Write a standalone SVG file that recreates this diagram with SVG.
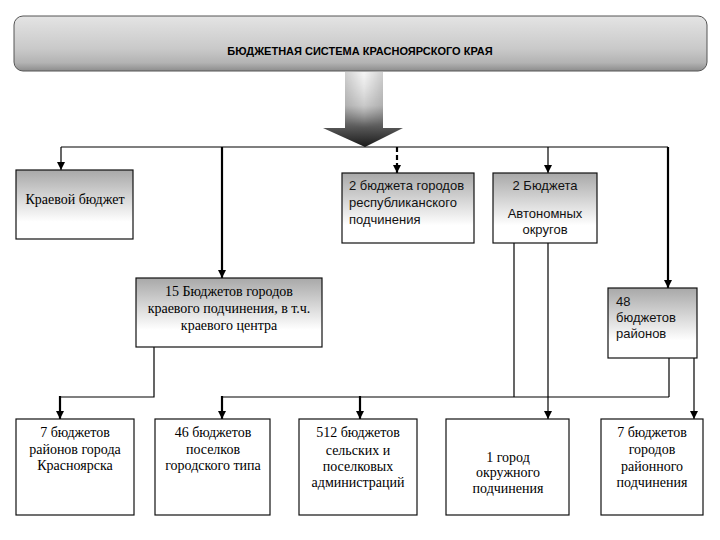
<svg xmlns="http://www.w3.org/2000/svg" width="720" height="540" viewBox="0 0 720 540">
<defs>
  <linearGradient id="gBanner" x1="0" y1="0" x2="0" y2="1">
    <stop offset="0" stop-color="#e4e4e4"/>
    <stop offset="0.6" stop-color="#c9c9c9"/>
    <stop offset="0.85" stop-color="#b3b3b3"/>
    <stop offset="1" stop-color="#8c8c8c"/>
  </linearGradient>
  <linearGradient id="gBox" x1="0" y1="0" x2="0" y2="1">
    <stop offset="0" stop-color="#a8a8a8"/>
    <stop offset="0.75" stop-color="#ffffff"/>
    <stop offset="1" stop-color="#ffffff"/>
  </linearGradient>
  <linearGradient id="gArrow" x1="0" y1="0" x2="0" y2="1">
    <stop offset="0" stop-color="#d0d0d0"/>
    <stop offset="0.45" stop-color="#b0b0b0"/>
    <stop offset="0.7" stop-color="#606060"/>
    <stop offset="1" stop-color="#1a1a1a"/>
  </linearGradient>
  <linearGradient id="gShine" x1="0" y1="0" x2="1" y2="0">
    <stop offset="0" stop-color="#ffffff" stop-opacity="0"/>
    <stop offset="0.5" stop-color="#ffffff" stop-opacity="0.8"/>
    <stop offset="1" stop-color="#ffffff" stop-opacity="0"/>
  </linearGradient>
  <linearGradient id="gShineV" x1="0" y1="0" x2="0" y2="1">
    <stop offset="0" stop-color="#ffffff" stop-opacity="1"/>
    <stop offset="1" stop-color="#ffffff" stop-opacity="0"/>
  </linearGradient>
  <mask id="mShine">
    <rect x="345" y="72" width="38" height="56" fill="url(#gShineV)"/>
  </mask>
  <marker id="ah" viewBox="0 0 10 10" refX="10" refY="5" markerWidth="8" markerHeight="8" markerUnits="userSpaceOnUse" orient="auto">
    <path d="M0,0 L10,5 L0,10 Z" fill="#000"/>
  </marker>
  <style>
    .box{stroke:#111;stroke-width:1.2}
    .gb{fill:url(#gBox)}
    .wb{fill:#fff}
    .c{text-anchor:middle}
    .ln{fill:none;stroke:#000;stroke-width:1.2}
    .th{stroke-width:2.2}
    .ar{marker-end:url(#ah)}
  </style>
</defs>
<rect width="720" height="540" fill="#fff"/>

<g id="title">
  <rect x="14" y="16" width="693" height="55" rx="9" fill="url(#gBanner)" stroke="#555" stroke-width="1"/>
  <text x="360" y="55" text-anchor="middle" font-family="'Liberation Sans', Arial, sans-serif" font-size="11" font-weight="bold" fill="#000">БЮДЖЕТНАЯ СИСТЕМА КРАСНОЯРСКОГО КРАЯ</text>
</g>

<g id="bigArrow">
  <polygon points="345,72 383,72 383,128 403,128 365,147 323,128 345,128" fill="url(#gArrow)"/>
  <rect x="345" y="72" width="38" height="56" fill="url(#gShine)" mask="url(#mShine)"/>
</g>

<g id="connectors">
  <line class="ln" x1="61" y1="147" x2="668" y2="147"/>
  <line class="ln ar" x1="61" y1="147" x2="61" y2="170"/>
  <line class="ln th ar" x1="222" y1="147" x2="222" y2="278"/>
  <line class="ln th ar" x1="397" y1="147" x2="397" y2="173" stroke-dasharray="5,3"/>
  <line class="ln ar" x1="548" y1="147" x2="548" y2="173"/>
  <line class="ln th ar" x1="668" y1="147" x2="668" y2="288"/>
  <polyline class="ln" points="154,347 154,397 60,397"/>
  <line class="ln th ar" x1="60" y1="396" x2="60" y2="419"/>
  <line class="ln" x1="222" y1="397" x2="669" y2="397"/>
  <line class="ln th ar" x1="222" y1="396" x2="222" y2="419"/>
  <line class="ln th ar" x1="360" y1="396" x2="360" y2="419"/>
  <line class="ln" x1="514" y1="243" x2="514" y2="397"/>
  <line class="ln" x1="669" y1="358" x2="669" y2="397"/>
  <line class="ln ar" x1="548" y1="243" x2="548" y2="419"/>
  <line class="ln ar" x1="694" y1="358" x2="694" y2="419"/>
</g>

<g font-family="'Liberation Serif', 'Times New Roman', serif" font-size="14" fill="#000">
<g id="kraevoy">
  <rect class="box gb" x="16" y="170" width="117" height="69"/>
  <text class="c" x="75" y="204">Краевой бюджет</text>
</g>

<g id="kraiCities">
  <rect class="box gb" x="136" y="278" width="186" height="69"/>
  <text class="c" x="229" y="296">15 Бюджетов городов</text>
  <text class="c" x="229" y="313">краевого подчинения, в т.ч.</text>
  <text class="c" x="229" y="330">краевого центра</text>
</g>

<g id="krasDistricts">
  <rect class="box wb" x="16" y="419" width="118" height="96"/>
  <text class="c" x="75" y="437">7 бюджетов</text>
  <text class="c" x="75" y="454">районов города</text>
  <text class="c" x="75" y="470">Красноярска</text>
</g>

<g id="settlements">
  <rect class="box wb" x="155" y="419" width="115" height="96"/>
  <text class="c" x="213" y="437">46 бюджетов</text>
  <text class="c" x="213" y="454">поселков</text>
  <text class="c" x="213" y="470">городского типа</text>
</g>

<g id="rural">
  <rect class="box wb" x="299" y="419" width="118" height="96"/>
  <text class="c" x="358" y="437">512 бюджетов</text>
  <text class="c" x="358" y="455">сельских и</text>
  <text class="c" x="358" y="471">поселковых</text>
  <text class="c" x="358" y="487">администраций</text>
</g>

<g id="okrugCity">
  <rect class="box wb" x="446" y="419" width="123" height="96"/>
  <text class="c" x="508" y="462">1 город</text>
  <text class="c" x="508" y="477">окружного</text>
  <text class="c" x="508" y="493">подчинения</text>
</g>

<g id="districtCities">
  <rect class="box wb" x="601" y="419" width="102" height="96"/>
  <text class="c" x="652" y="437">7 бюджетов</text>
  <text class="c" x="652" y="454">городов</text>
  <text class="c" x="652" y="471">районного</text>
  <text class="c" x="652" y="487">подчинения</text>
</g>
</g>

<g font-family="'Liberation Sans', Arial, sans-serif" font-size="13" fill="#111">
<g id="respCities">
  <rect class="box gb" x="342" y="173" width="132" height="70"/>
  <text x="349" y="190">2 бюджета городов</text>
  <text x="349" y="207">республиканского</text>
  <text x="349" y="224">подчинения</text>
</g>

<g id="autonomous">
  <rect class="box gb" x="493" y="173" width="104" height="70"/>
  <text class="c" x="545" y="190">2 Бюджета</text>
  <text class="c" x="545" y="218">Автономных</text>
  <text class="c" x="545" y="234">округов</text>
</g>

<g id="districts">
  <rect class="box gb" x="608" y="288" width="89" height="70"/>
  <text x="616" y="306">48</text>
  <text x="616" y="322">бюджетов</text>
  <text x="616" y="338">районов</text>
</g>
</g>
</svg>
